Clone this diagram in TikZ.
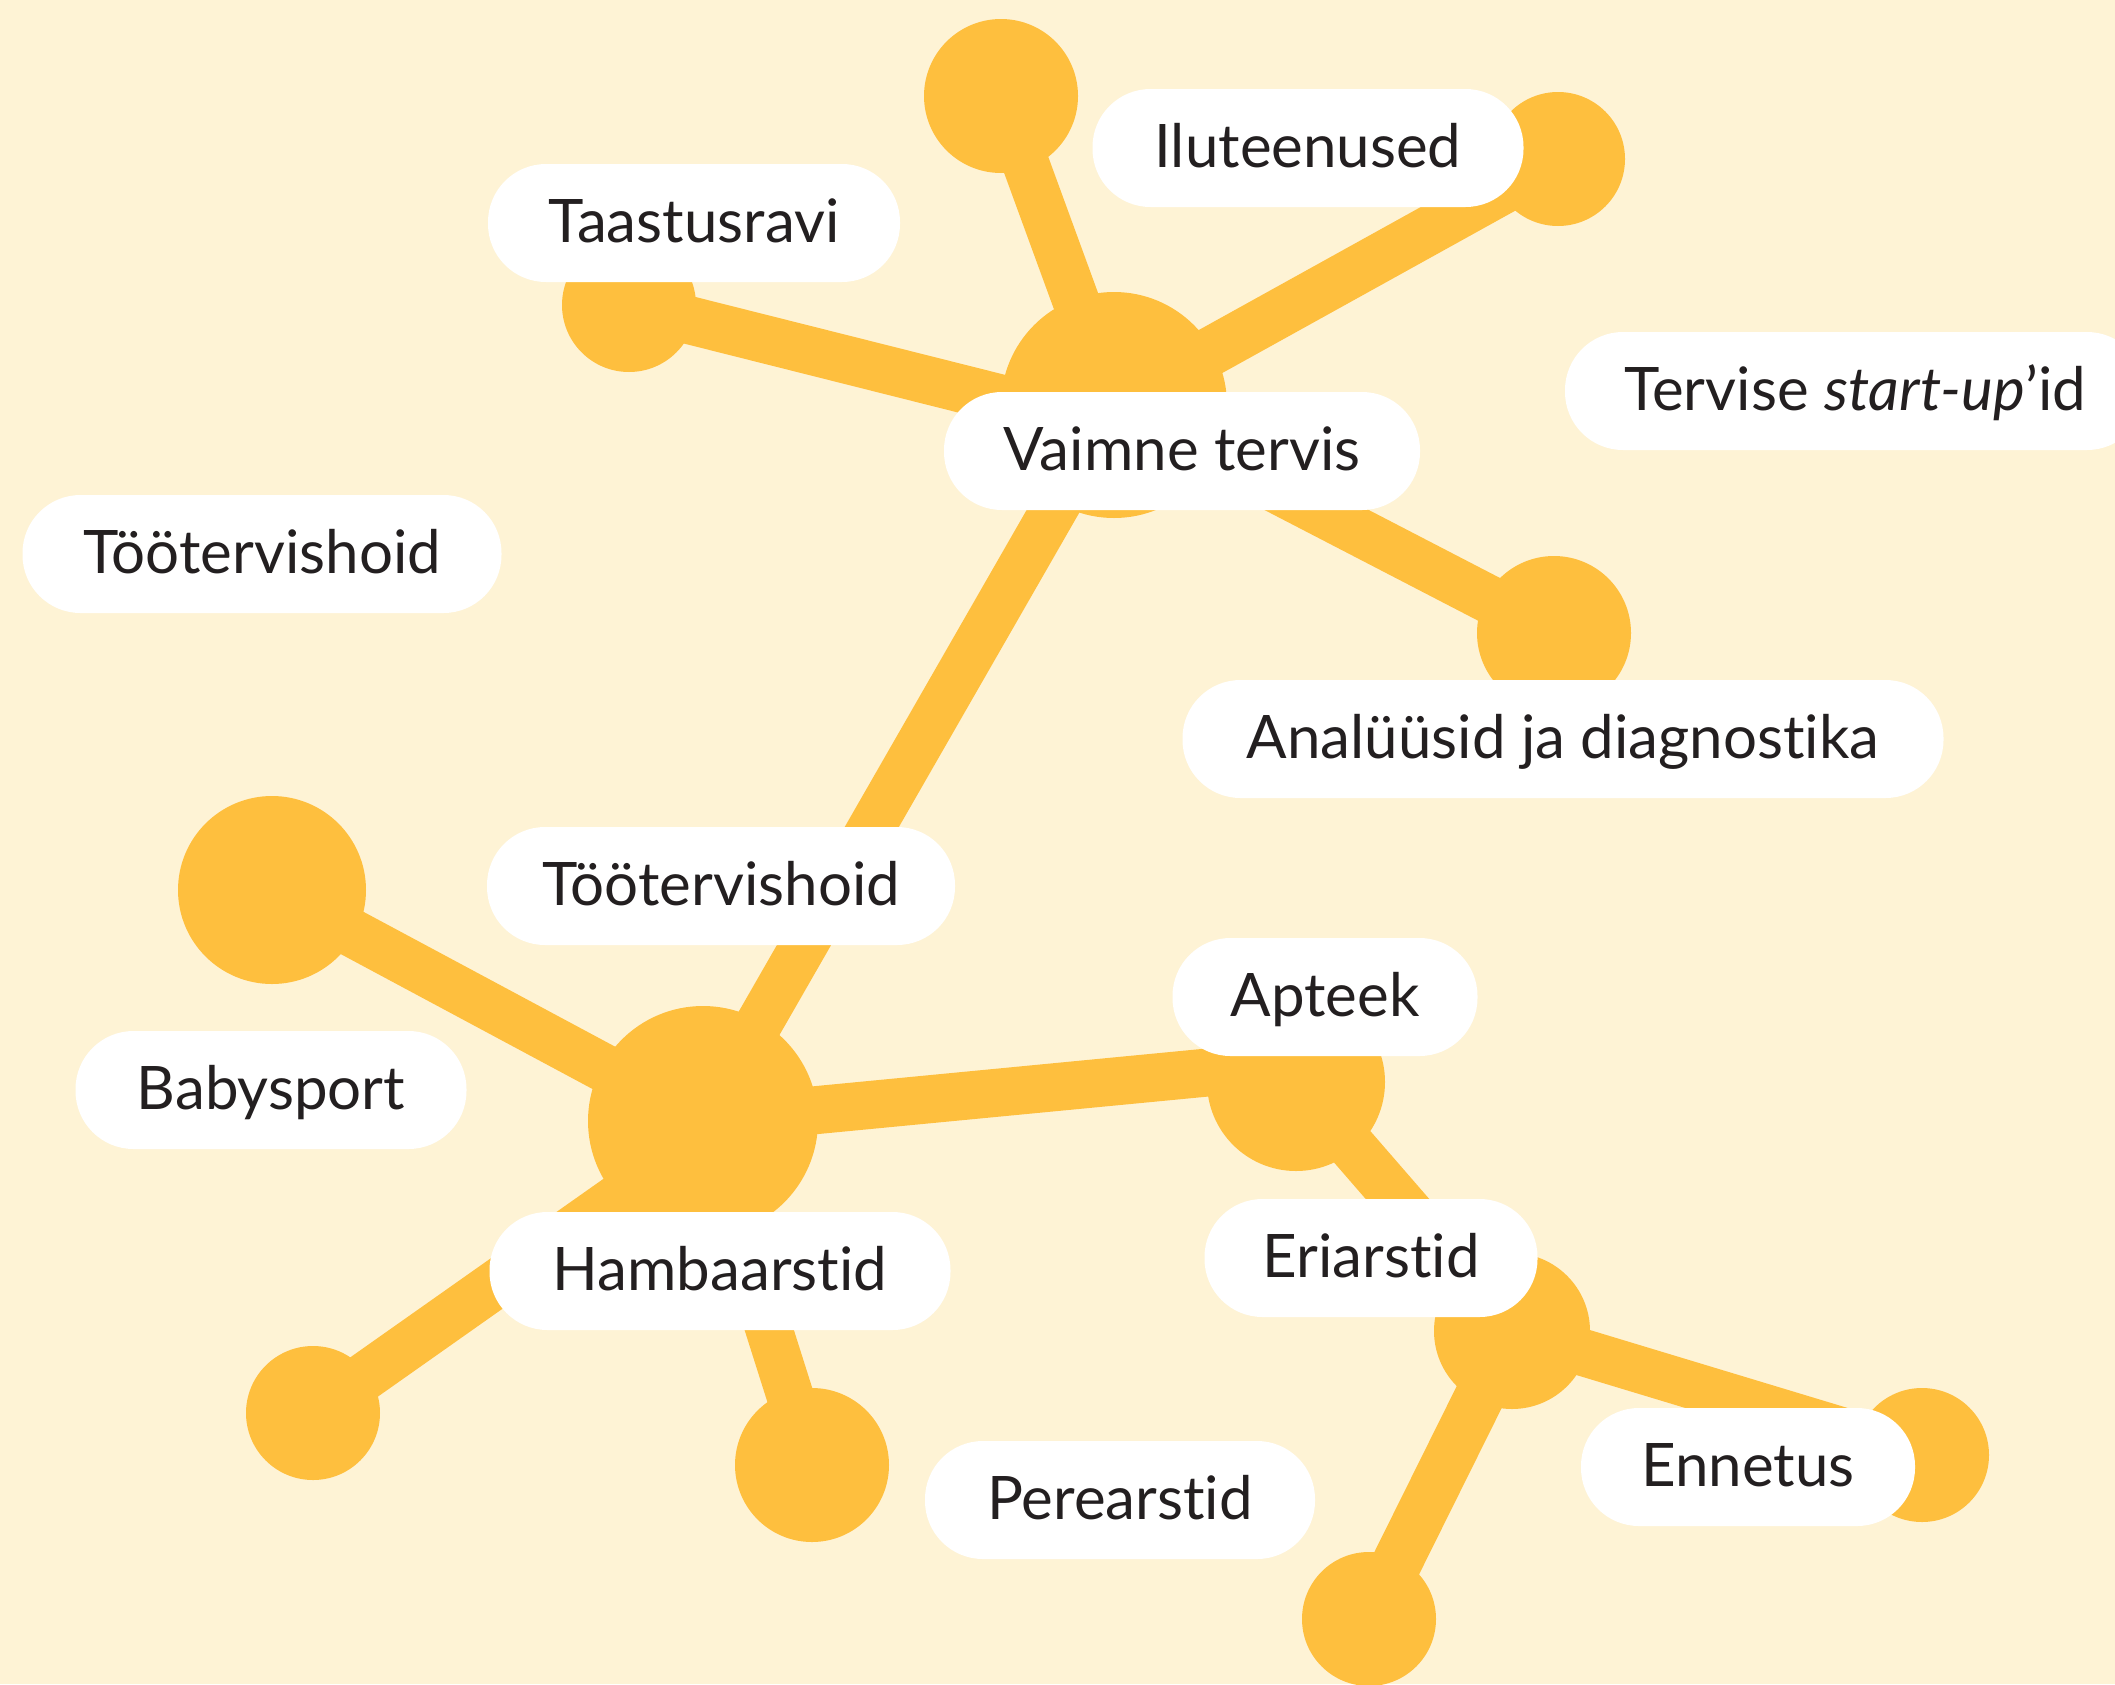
\documentclass[tikz,border=0pt]{standalone}
\usepackage{fontspec}
\setmainfont{Lato}[Ligatures=NoCommon]
\usetikzlibrary{backgrounds}
\definecolor{bg}{HTML}{FEF3D5}
\definecolor{yel}{HTML}{FEBF3E}
\definecolor{ink}{HTML}{231F20}
\tikzset{
 dot/.style={circle, fill=yel, inner sep=0pt, minimum size=#1},
 link/.style={draw=yel, line width=#1},
 pill/.style={fill=white, rounded corners=58pt, minimum height=118pt, minimum width=#1,
   inner sep=0pt, text=ink, text height=44pt, text depth=6pt, font=\fontsize{60}{70}\selectfont},
}
\begin{document}
\begin{tikzpicture}[x=1pt,y=-1pt]
\useasboundingbox (0,0) rectangle (2115,1684);
\clip (0,0) rectangle (2115,1684);
% circles
\node[dot=226pt] (vt) at (1114,405) {};
\node[dot=154pt] (top) at (1001,96) {};
\node[dot=134pt] (ilu) at (1558,159) {};
\node[dot=134pt] (taa) at (629,305) {};
\node[dot=154pt] (ana) at (1554,633) {};
\node[dot=230pt] (hb) at (703,1121) {};
\node[dot=188pt] (bab) at (272,890) {};
\node[dot=134pt] (bl) at (313,1413) {};
\node[dot=154pt] (bot) at (812,1465) {};
\node[dot=178pt] (apt) at (1296,1082) {};
\node[dot=156pt] (eri) at (1512,1331) {};
\node[dot=134pt] (enn) at (1922,1455) {};
\node[dot=134pt] (eb) at (1369,1619) {};
% edges
\begin{scope}[on background layer]
\fill[bg] (0,0) rectangle (2115,1684);
\draw[link=47pt] (vt.center) -- (top.center);
\draw[link=49pt] (vt.center) -- (ilu.center);
\draw[link=48pt] ([yshift=-22pt]vt.center) -- (taa.center);
\draw[link=48pt] (vt.center) -- (ana.center);
\draw[link=47pt] (vt.center) -- (hb.center);
\draw[link=48pt] (hb.center) -- (bab.center);
\draw[link=48pt] ([yshift=-17pt]hb.center) -- (bl.center);
\draw[link=47pt] (hb.center) -- (bot.center);
\draw[link=48pt] (hb.center) -- ([yshift=18pt]apt.center);
\draw[link=48pt] (apt.center) -- (eri.center);
\draw[link=47pt] (eri.center) -- (enn.center);
\draw[link=50pt] (eri.center) -- (eb.center);
\end{scope}
% labels
\node[pill=431pt] (lIlu) at (1308,148) {Iluteenused};
\node[pill=412pt] (lTaa) at (694,223) {Taastusravi};
\node[pill=476pt] (lVt) at (1182,451) {Vaimne tervis};
\node[pill=580pt] (lTsu) at (1855,391) {Tervise \textit{start-up}’id};
\node[pill=479pt] (lTo1) at (262,554) {Töötervishoid};
\node[pill=761pt] (lAna) at (1563,739) {Analüüsid ja diagnostika};
\node[pill=468pt] (lTo2) at (721,886) {Töötervishoid};
\node[pill=305pt] (lApt) at (1325,997) {Apteek};
\node[pill=391pt] (lBab) at (271,1090) {Babysport};
\node[pill=461pt] (lHb) at (720,1271) {Hambaarstid};
\node[pill=333pt] (lEri) at (1371,1258) {Eriarstid};
\node[pill=334pt] (lEnn) at (1748,1467) {Ennetus};
\node[pill=390pt] (lPer) at (1120,1500) {Perearstid};
\end{tikzpicture}
\end{document}
